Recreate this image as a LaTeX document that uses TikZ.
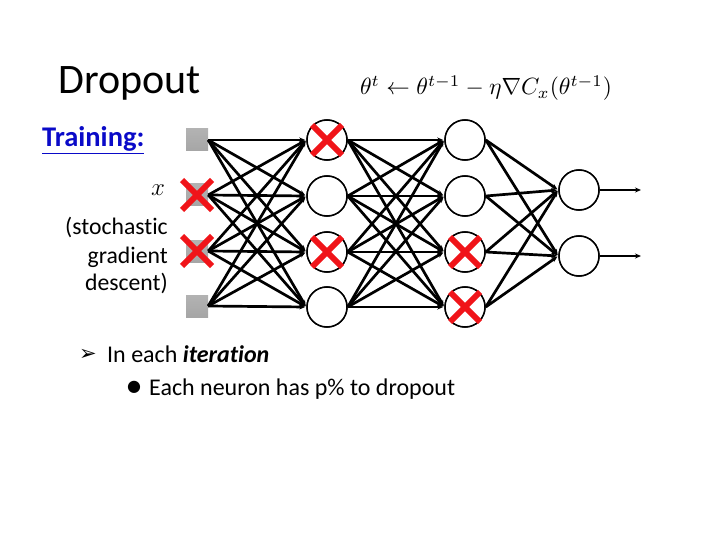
\documentclass[tikz,border=0pt]{standalone}
\usepackage{fontspec}
\usepackage{graphicx}
\setmainfont{Carlito}[Ligatures=CommonOff]
\newfontfamily\dejavu{DejaVu Sans}
\usetikzlibrary{arrows.meta}
\definecolor{tblue}{RGB}{10,10,200}
\definecolor{xred}{RGB}{240,20,25}
\tikzset{
  neuron/.style={circle,draw=black,line width=1.5pt,minimum size=40pt,inner sep=0pt,fill=white},
  inp/.style={rectangle,minimum size=22pt,inner sep=0pt,top color=gray!60,bottom color=gray!70},
  conn/.style={line width=2.7pt,-{Stealth[length=6pt,width=5pt]},shorten >=1pt},
  xmark/.style={line width=6pt,draw=xred},
}
\newcommand{\crossat}[2]{%
  \draw[xmark] ([shift={(-#2,-#2)}]#1.center) -- ([shift={(#2,#2)}]#1.center);
  \draw[xmark] ([shift={(-#2,#2)}]#1.center) -- ([shift={(#2,-#2)}]#1.center);}
\begin{document}
\begin{tikzpicture}[x=1pt,y=-1pt]
\useasboundingbox (0,0) rectangle (720,540);
% inputs
\node[inp] (i1) at (197,140) {};
\node[inp] (i2) at (197,195) {};
\node[inp] (i3) at (197,251) {};
\node[inp] (i4) at (197,306) {};
% hidden layers
\foreach \k/\y in {1/140,2/196,3/252,4/307}{
  \node[neuron] (h\k) at (327,\y) {};
  \node[neuron] (g\k) at (465,\y) {};
}
\node[neuron] (o1) at (579,190) {};
\node[neuron] (o2) at (579,256) {};
\coordinate (e1) at (641,190);
\coordinate (e2) at (641,256);
% connections
\foreach \a in {1,2,3,4}{
  \foreach \b in {1,2,3,4}{
    \draw[conn] (i\a.east) -- (h\b.west);
    \draw[conn] (h\a.east) -- (g\b.west);
  }
  \foreach \b in {1,2}{
    \draw[conn] (g\a.east) -- (o\b.west);
  }
}
\draw[line width=2pt,-{Stealth[length=6pt,width=5pt]}] (o1.east) -- (e1);
\draw[line width=2pt,-{Stealth[length=6pt,width=5pt]}] (o2.east) -- (e2);
% redraw circles on top
\foreach \k/\y in {1/140,2/196,3/252,4/307}{
  \node[neuron] at (327,\y) {};
  \node[neuron] at (465,\y) {};
}
\node[neuron] at (579,190) {};
\node[neuron] at (579,256) {};
% crosses
\crossat{i2}{15}
\crossat{i3}{15}
\crossat{h1}{15}
\crossat{h3}{15}
\crossat{g3}{15}
\crossat{g4}{15}
% texts
\node[anchor=base west,inner sep=0pt] (title) at (58,94) {\fontsize{42}{50}\selectfont Dropout};
\node[anchor=center,inner sep=0pt] (formula) at (486,88) {\resizebox{252pt}{!}{$\theta^t \leftarrow \theta^{t-1} - \eta\nabla C_x(\theta^{t-1})$}};
\node[anchor=base west,inner sep=0pt,text=tblue] (train) at (42,147) {\fontsize{28.5}{32}\selectfont\bfseries\underline{Training:}};
\node[anchor=center,inner sep=0pt] (xl) at (158,190) {\fontsize{26}{30}\selectfont$x$};
\node[anchor=base east,inner sep=0pt] (s1) at (168,235) {\fontsize{23.7}{28}\selectfont (stochastic};
\node[anchor=base east,inner sep=0pt] (s2) at (168,263) {\fontsize{23.7}{28}\selectfont gradient};
\node[anchor=base east,inner sep=0pt] (s3) at (168,290) {\fontsize{23.7}{28}\selectfont descent)};
\node[anchor=center,inner sep=0pt] (b1) at (88,355) {\fontsize{21}{24}\selectfont\dejavu ➢};
\node[anchor=base west,inner sep=0pt] (t1) at (107,362) {\fontsize{24}{28}\selectfont In each \textbf{\textit{iteration}}};
\node[anchor=center,inner sep=0pt] (b2) at (134,387) {\fontsize{16}{20}\selectfont\dejavu ●};
\node[anchor=base west,inner sep=0pt] (t2) at (149,395) {\fontsize{24}{28}\selectfont Each neuron has p\% to dropout};
\end{tikzpicture}
\end{document}
